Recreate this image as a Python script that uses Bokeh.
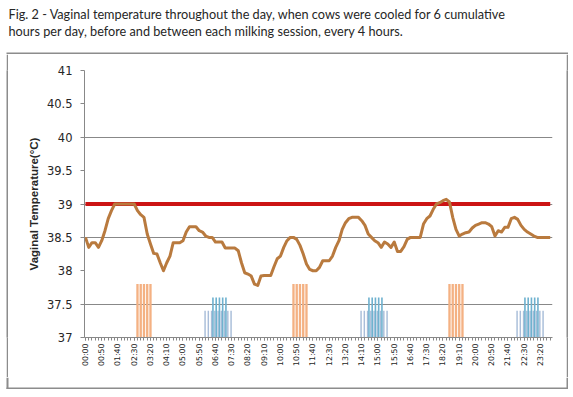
from bokeh.plotting import figure
from bokeh.layouts import column, row
from bokeh.models import FixedTicker, Range1d
from bokeh.core.properties import value
from bokeh.embed import file_html
from bokeh.resources import INLINE

# ---- data ----
times = [f"{h:02d}:{m:02d}" for h in range(24) for m in range(0, 60, 10)]

temperature = [
    38.50, 38.35, 38.42, 38.42, 38.35, 38.45, 38.60, 38.78, 38.90, 39.00,
    39.00, 39.00, 39.00, 39.00, 39.00, 39.00, 38.90, 38.84, 38.80, 38.55,
    38.40, 38.26, 38.25, 38.12, 38.00, 38.12, 38.22, 38.42, 38.42, 38.42,
    38.45, 38.58, 38.66, 38.66, 38.66, 38.60, 38.58, 38.52, 38.50, 38.50,
    38.43, 38.43, 38.43, 38.34, 38.34, 38.34, 38.34, 38.30, 38.12, 37.97,
    37.95, 37.92, 37.80, 37.78, 37.92, 37.93, 37.93, 37.93, 38.06, 38.18,
    38.22, 38.35, 38.45, 38.50, 38.50, 38.47, 38.38, 38.25, 38.10, 38.02,
    38.00, 38.00, 38.05, 38.15, 38.15, 38.15, 38.22, 38.35, 38.45, 38.62,
    38.72, 38.78, 38.80, 38.80, 38.80, 38.75, 38.68, 38.55, 38.50, 38.45,
    38.42, 38.35, 38.43, 38.40, 38.35, 38.43, 38.29, 38.29, 38.36, 38.47,
    38.50, 38.50, 38.50, 38.50, 38.70, 38.78, 38.82, 38.92, 39.00, 39.02,
    39.05, 39.07, 39.03, 38.80, 38.62, 38.52, 38.55, 38.57, 38.58, 38.64,
    38.68, 38.70, 38.72, 38.72, 38.70, 38.66, 38.52, 38.60, 38.58, 38.65,
    38.65, 38.78, 38.80, 38.77, 38.68, 38.62, 38.58, 38.55, 38.52, 38.50,
    38.50, 38.50, 38.50, 38.50,
]

threshold = 39.0

milking_times = ["02:40", "02:50", "03:00", "03:10", "03:20",
                 "10:40", "10:50", "11:00", "11:10", "11:20",
                 "18:40", "18:50", "19:00", "19:10", "19:20"]
milking_level = 37.8

cooling_a_times = ["06:10", "06:20", "06:30", "06:40", "06:50", "07:00", "07:10", "07:20", "07:30",
                   "14:10", "14:20", "14:30", "14:40", "14:50", "15:00", "15:10", "15:20", "15:30",
                   "22:10", "22:20", "22:30", "22:40", "22:50", "23:00", "23:10", "23:20", "23:30"]
cooling_a_level = 37.4

cooling_b_times = ["06:30", "06:40", "06:50", "07:00", "07:10",
                   "14:30", "14:40", "14:50", "15:00", "15:10",
                   "22:30", "22:40", "22:50", "23:00", "23:10"]
cooling_b_level = 37.6

tick_labels = ["00:00", "00:50", "01:40", "02:30", "03:20", "04:10", "05:00", "05:50",
               "06:40", "07:30", "08:20", "09:10", "10:00", "10:50", "11:40", "12:30",
               "13:20", "14:10", "15:00", "15:50", "16:40", "17:30", "18:20", "19:10",
               "20:00", "20:50", "21:40", "22:30", "23:20"]

title_line1 = "Fig. 2 - Vaginal temperature throughout the day, when cows were cooled for 6 cumulative"
title_line2 = "hours per day, before and between each milking session, every 4 hours."
y_title = "Vaginal Temperature(\u00b0C)"

# ---- derived positions via category index ----
pos = {t: i for i, t in enumerate(times)}
xs = list(range(len(times)))
milk_x = [pos[t] for t in milking_times]
ca_x = [pos[t] - 0.2 for t in cooling_a_times]
cb_x = [pos[t] + 0.22 for t in cooling_b_times]
tick_pos = [pos[t] for t in tick_labels]

GRAY = "#888888"
BORDER = "#8c8c8c"
W = 568
LEFT_PAD = 6
TITLE_H = 54
CHART_W = 558
CHART_H = 323
FOOT_H = 12


def block(w, h, color):
    f = figure(width=w, height=h, output_backend="svg", toolbar_location=None,
               x_axis_location=None, y_axis_location=None, min_border=0,
               background_fill_color=color, border_fill_color=color)
    f.outline_line_color = None
    f.grid.visible = False
    return f


def pixel_fig(w, h):
    f = figure(width=w, height=h, output_backend="svg", toolbar_location=None,
               x_range=Range1d(0, w), y_range=Range1d(h, 0),
               x_axis_location=None, y_axis_location=None, min_border=0)
    f.outline_line_color = None
    f.grid.visible = False
    return f


# ---- title area with top border ----
t = pixel_fig(W, TITLE_H)
t.text(x=[8, 8], y=[13, 30], text=[title_line1, title_line2],
       text_font=value("Lato"), text_font_size="12.7px", text_color="#262626",
       text_baseline="alphabetic", text_align="left")
t.quad(left=[LEFT_PAD], right=[W], top=[TITLE_H - 2], bottom=[TITLE_H],
       fill_color=BORDER, line_color=None)

# ---- footer with bottom border and the ends of the side borders ----
foot = pixel_fig(W, FOOT_H)
foot.quad(left=[LEFT_PAD, LEFT_PAD, W - 2], right=[W, LEFT_PAD + 2, W],
          top=[FOOT_H - 2, 0, 0], bottom=[FOOT_H, FOOT_H, FOOT_H],
          fill_color=BORDER, line_color=None)

# ---- chart ----
p = figure(width=CHART_W, height=CHART_H, output_backend="svg", toolbar_location=None,
           x_range=Range1d(-0.3, 143.7), y_range=Range1d(37, 41),
           min_border_left=76, min_border_right=14, min_border_top=16, min_border_bottom=40,
           background_fill_color="white", border_fill_color="white")
p.outline_line_color = None

p.vbar(x=milk_x, top=[milking_level] * len(milk_x), bottom=37, width=0.72,
       fill_color="#F4B183", line_color=None)
p.vbar(x=ca_x, top=[cooling_a_level] * len(ca_x), bottom=37, width=0.45,
       fill_color="#A9BDD9", line_color=None)
p.vbar(x=cb_x, top=[cooling_b_level] * len(cb_x), bottom=37, width=0.5,
       fill_color="#6FB2CF", line_color=None)

p.line(x=[xs[0], xs[-1]], y=[threshold, threshold], line_color="#CC1414", line_width=4)
p.line(x=xs, y=temperature, line_color="#B97A3E", line_width=3, line_join="round")

p.xaxis.ticker = FixedTicker(ticks=tick_pos, minor_ticks=xs)
p.xaxis.major_label_overrides = {tp: lab for tp, lab in zip(tick_pos, tick_labels)}
p.xaxis.major_label_orientation = 1.5708
p.xaxis.major_label_text_font = "DejaVu Sans"
p.xaxis.major_label_text_font_size = "7.8px"
p.xaxis.major_label_text_color = "#1e1e1e"
p.xaxis.major_label_standoff = 3
p.xaxis.major_tick_in = 0
p.xaxis.major_tick_out = 3
p.xaxis.minor_tick_in = 0
p.xaxis.minor_tick_out = 3
p.xaxis.axis_line_color = GRAY
p.xaxis.major_tick_line_color = GRAY
p.xaxis.minor_tick_line_color = GRAY

p.yaxis.ticker = FixedTicker(ticks=[37, 37.5, 38, 38.5, 39, 39.5, 40, 40.5, 41])
p.yaxis.major_label_overrides = {37: "37", 38: "38", 39: "39", 40: "40", 41: "41"}
p.yaxis.major_label_text_font = "DejaVu Sans"
p.yaxis.major_label_text_font_size = "11.5px"
p.yaxis.major_label_text_color = "#262626"
p.yaxis.major_label_standoff = 8
p.yaxis.major_tick_in = 0
p.yaxis.major_tick_out = 4
p.yaxis.minor_tick_line_color = None
p.yaxis.axis_line_color = GRAY
p.yaxis.major_tick_line_color = GRAY
p.yaxis.axis_label = y_title
p.yaxis.axis_label_text_font = "Liberation Sans"
p.yaxis.axis_label_text_font_style = "bold"
p.yaxis.axis_label_text_font_size = "11.5px"
p.yaxis.axis_label_text_color = "#262626"
p.yaxis.axis_label_standoff = 4

p.xgrid.grid_line_color = None
p.ygrid.ticker = FixedTicker(ticks=[37.5, 38.5, 39, 40])
p.ygrid.grid_line_color = GRAY
p.ygrid.grid_line_width = 1

layout = column(
    t,
    row(block(LEFT_PAD, CHART_H, "white"), block(2, CHART_H, BORDER), p, block(2, CHART_H, BORDER)),
    foot,
)

open("out.html", "w").write(file_html(layout, INLINE))
